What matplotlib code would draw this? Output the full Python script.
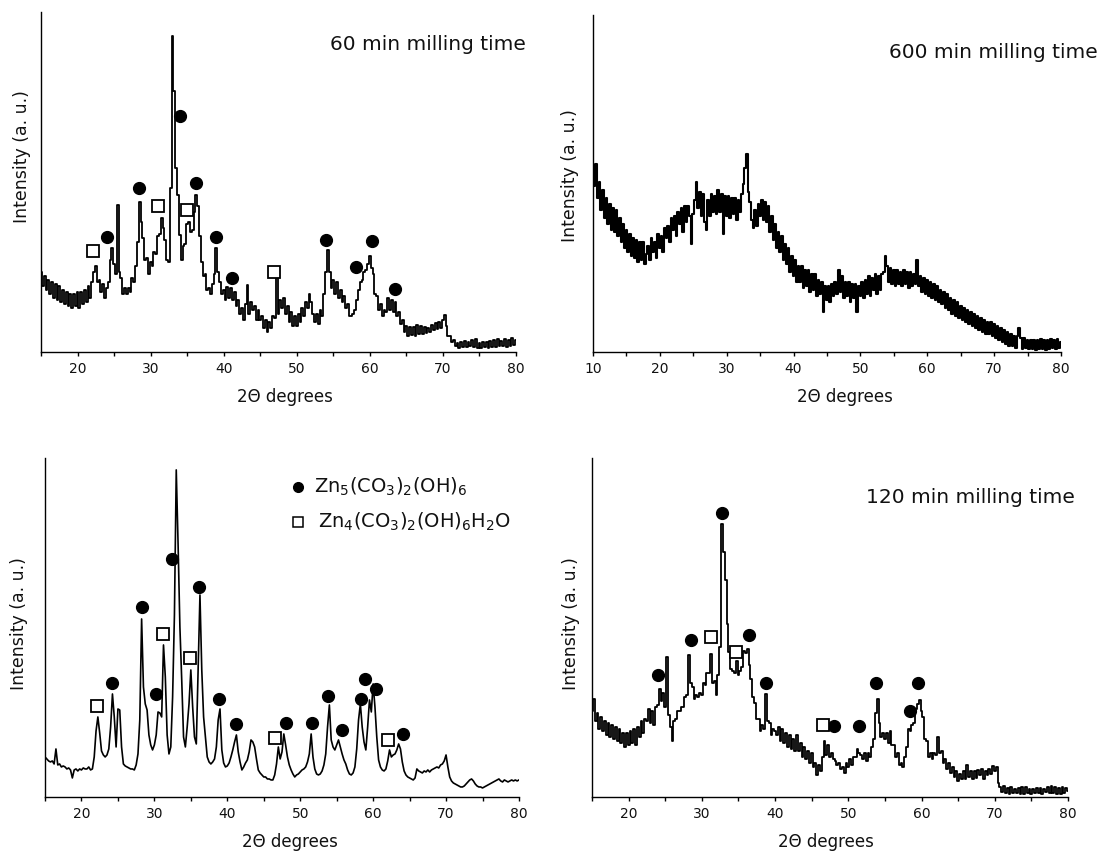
import matplotlib.pyplot as plt
import numpy as np
from matplotlib.ticker import MultipleLocator

plt.rcParams['font.family'] = ['DejaVu Sans']
plt.rcParams['mathtext.default'] = 'regular'

# 2-theta sampling grids, degrees
two_theta_15 = np.arange(15, 80.001, 0.25)
two_theta_10 = np.arange(10, 80.001, 0.25)

# intensity (a. u.), four values per degree
int_60 = [
    80, 66, 76, 62, 72, 58, 70, 54, 68, 52, 66, 50, 62, 48, 60, 46,
    58, 44, 58, 46, 60, 44, 60, 48, 62, 50, 66, 54, 70, 80, 86, 70,
    72, 60, 68, 54, 64, 70, 92, 104, 88, 78, 147, 80, 74, 58, 64, 58,
    64, 60, 74, 70, 86, 110, 150, 130, 114, 92, 94, 78, 90, 86, 100, 98,
    116, 118, 134, 124, 112, 92, 90, 164, 316, 261, 184, 157, 117, 92, 106, 108,
    128, 130, 120, 122, 140, 157, 146, 116, 90, 76, 78, 62, 64, 58, 68, 78,
    104, 80, 70, 58, 62, 52, 65, 54, 64, 52, 60, 46, 52, 38, 44, 32,
    48, 67, 38, 50, 42, 46, 32, 42, 32, 36, 24, 32, 20, 30, 24, 36,
    34, 84, 38, 52, 44, 54, 38, 46, 30, 40, 26, 36, 26, 38, 30, 44,
    36, 50, 44, 58, 50, 38, 30, 38, 28, 42, 36, 58, 80, 102, 80, 64,
    72, 58, 70, 54, 62, 50, 56, 44, 48, 36, 36, 38, 42, 52, 62, 70,
    72, 80, 82, 88, 96, 84, 78, 58, 56, 42, 48, 36, 42, 40, 54, 42,
    52, 40, 50, 36, 40, 28, 32, 20, 26, 16, 25, 17, 25, 16, 27, 18,
    26, 18, 25, 19, 24, 20, 27, 22, 29, 23, 30, 24, 32, 37, 26, 16,
    16, 10, 12, 6, 9, 4, 10, 5, 11, 5, 10, 6, 12, 5, 13, 4,
    9, 4, 10, 5, 10, 4, 11, 5, 12, 5, 13, 6, 11, 6, 13, 5,
    12, 6, 14, 7, 12,
]

int_600 = [
    180, 166, 188, 154, 170, 142, 162, 134, 154, 128, 148, 122, 144, 120, 142, 116,
    134, 110, 128, 104, 122, 100, 118, 96, 114, 94, 112, 90, 110, 92, 110, 88,
    98, 106, 92, 114, 100, 110, 94, 118, 104, 116, 100, 124, 114, 126, 110, 134,
    122, 136, 116, 140, 128, 144, 120, 146, 130, 146, 136, 108, 138, 152, 170, 144,
    160, 136, 158, 130, 122, 152, 136, 158, 140, 156, 138, 162, 140, 158, 118, 156,
    136, 156, 134, 154, 138, 154, 132, 152, 140, 158, 168, 184, 198, 160, 150, 132,
    124, 142, 126, 148, 136, 152, 132, 150, 130, 146, 120, 136, 112, 128, 104, 120,
    100, 116, 92, 108, 88, 104, 80, 96, 76, 92, 70, 86, 70, 86, 64, 82,
    66, 82, 60, 78, 62, 78, 56, 72, 58, 70, 40, 66, 52, 66, 50, 68,
    56, 70, 58, 82, 60, 76, 54, 70, 56, 70, 50, 68, 54, 68, 40, 66,
    56, 70, 54, 72, 58, 76, 56, 74, 62, 78, 58, 76, 62, 78, 80, 96,
    86, 70, 84, 68, 82, 66, 82, 68, 80, 66, 82, 68, 80, 64, 80, 66,
    78, 68, 92, 66, 76, 60, 74, 58, 72, 56, 70, 54, 68, 52, 66, 50,
    62, 48, 60, 44, 58, 42, 54, 38, 52, 36, 50, 34, 46, 32, 44, 30,
    42, 28, 40, 26, 38, 24, 36, 22, 34, 20, 32, 18, 30, 18, 30, 16,
    28, 14, 26, 12, 24, 10, 22, 8, 20, 6, 18, 6, 16, 4, 16, 24,
    14, 3, 14, 4, 12, 3, 12, 3, 12, 2, 12, 3, 13, 3, 12, 2,
    12, 3, 13, 4, 12, 3, 13, 4, 10,
]

int_0 = [
    40, 38, 36, 35, 36, 33, 48, 32, 33, 30, 31, 30, 28, 29, 27, 19,
    27, 28, 26, 28, 27, 29, 28, 28, 30, 27, 28, 40, 66, 80, 64, 46,
    42, 40, 42, 48, 70, 103, 80, 50, 88, 87, 50, 33, 31, 30, 29, 28,
    28, 27, 32, 43, 77, 178, 110, 93, 87, 62, 52, 47, 52, 62, 85, 84,
    80, 152, 120, 62, 43, 50, 100, 182, 327, 253, 170, 117, 60, 50, 70, 93,
    127, 90, 60, 53, 127, 202, 127, 80, 60, 40, 35, 33, 35, 38, 50, 77,
    88, 47, 34, 30, 31, 34, 40, 47, 55, 62, 45, 35, 27, 30, 34, 37,
    45, 57, 55, 50, 38, 27, 24, 22, 20, 20, 18, 18, 17, 17, 22, 33,
    50, 38, 45, 63, 52, 40, 32, 27, 23, 20, 22, 23, 25, 27, 28, 30,
    35, 43, 63, 40, 28, 23, 22, 23, 26, 32, 43, 70, 92, 57, 50, 47,
    52, 57, 50, 43, 37, 33, 27, 23, 22, 24, 30, 48, 77, 93, 70, 55,
    47, 70, 97, 85, 113, 90, 60, 37, 30, 27, 26, 28, 36, 47, 40, 42,
    43, 47, 53, 48, 35, 26, 22, 20, 19, 18, 17, 19, 28, 26, 25, 24,
    26, 25, 27, 25, 27, 28, 29, 30, 29, 32, 33, 36, 42, 30, 20, 16,
    14, 13, 12, 11, 10, 10, 11, 13, 15, 17, 18, 16, 13, 11, 10, 10,
    9, 10, 11, 12, 13, 14, 15, 16, 17, 18, 16, 15, 17, 16, 15, 16,
    17, 16, 17, 16, 17,
]

int_120 = [
    86, 98, 76, 84, 68, 80, 66, 76, 62, 74, 60, 72, 58, 70, 56, 68,
    54, 64, 50, 64, 52, 66, 54, 68, 52, 70, 60, 76, 64, 78, 76, 88,
    74, 86, 72, 90, 92, 108, 96, 104, 90, 140, 82, 70, 56, 76, 78, 86,
    86, 90, 90, 100, 102, 142, 114, 110, 98, 102, 100, 104, 102, 114, 112, 124,
    124, 143, 114, 116, 102, 122, 150, 273, 245, 217, 173, 145, 128, 126, 124, 136,
    122, 126, 130, 146, 144, 148, 132, 118, 100, 94, 78, 78, 66, 72, 68, 103,
    76, 74, 62, 68, 66, 62, 70, 56, 68, 54, 64, 50, 62, 48, 58, 46,
    62, 46, 54, 40, 50, 38, 46, 34, 44, 30, 34, 22, 32, 26, 40, 56,
    42, 52, 40, 44, 38, 36, 32, 34, 28, 30, 24, 34, 30, 38, 32, 40,
    40, 48, 44, 42, 38, 44, 36, 44, 40, 50, 58, 84, 98, 74, 60, 64,
    58, 64, 54, 66, 52, 52, 40, 44, 32, 34, 30, 40, 50, 68, 66, 72,
    74, 88, 93, 97, 86, 80, 58, 56, 40, 44, 38, 44, 42, 60, 44, 46,
    34, 38, 28, 34, 24, 30, 20, 26, 16, 23, 18, 26, 18, 32, 20, 26,
    18, 26, 19, 27, 22, 28, 18, 26, 22, 28, 23, 31, 26, 30, 14, 10,
    5, 11, 4, 9, 3, 10, 4, 8, 4, 9, 3, 10, 3, 10, 4, 8,
    3, 8, 4, 9, 4, 9, 3, 8, 5, 10, 4, 11, 4, 10, 3, 9,
    3, 10, 4, 9, 6,
]

# reflection markers: hydrozincite (circles) and the hydrated phase (squares)
zn5_60_x = [24.05, 28.35, 34.0, 36.2, 38.9, 41.1, 54.05, 58.1, 60.25, 63.4]
zn5_60_y = [115, 164, 236, 169, 115, 74, 112, 85, 111, 63]
zn4_60_x = [22.05, 30.95, 34.95, 46.85]
zn4_60_y = [101, 146, 142, 80]

zn5_0_x = [24.25, 28.3, 30.2, 32.35, 36.15, 38.8, 41.25, 48.05, 51.6, 53.8,
           55.7, 58.3, 58.95, 60.4, 64.1]
zn5_0_y = [114, 190, 103, 238, 210, 98, 73, 74, 74, 101, 67, 98, 118, 108, 63]
zn4_0_x = [22.1, 31.2, 34.95, 46.6, 62.05]
zn4_0_y = [91, 163, 139, 59, 57]

zn5_120_x = [23.95, 28.5, 32.75, 36.5, 38.7, 48.1, 51.4, 53.8, 58.4, 59.45]
zn5_120_y = [122, 157, 284, 162, 114, 71, 71, 114, 86, 114]
zn4_120_x = [31.3, 34.6, 46.6]
zn4_120_y = [160, 145, 72]

TEXT = '#111111'


def style_axes(ax, xmin, ymax):
    ax.set_xlim(xmin, 80)
    ax.set_ylim(0, ymax)
    for side in ('top', 'right'):
        ax.spines[side].set_visible(False)
    for side in ('left', 'bottom'):
        ax.spines[side].set_linewidth(1.0)
    ax.set_yticks([])
    ax.xaxis.set_major_locator(MultipleLocator(10))
    ax.xaxis.set_minor_locator(MultipleLocator(5))
    ax.tick_params(axis='x', which='both', direction='out', length=3,
                   width=1, labelsize=10, pad=4, labelcolor=TEXT)


def axis_labels(ax, xlab_pos, ylab_pos):
    ax.text(xlab_pos[0], xlab_pos[1], '2\u0398 degrees', transform=ax.transAxes,
            ha='center', va='center', fontsize=12, color=TEXT)
    ax.text(ylab_pos[0], ylab_pos[1], 'Intensity (a. u.)', transform=ax.transAxes,
            rotation=90, ha='center', va='center', fontsize=12.5, color=TEXT)


def phase_marks(ax, cx, cy, sx, sy):
    ax.plot(cx, cy, 'o', color='black', ms=8.5, ls='none', clip_on=False)
    ax.plot(sx, sy, 's', mfc='white', mec='black', mew=1.3, ms=8, ls='none',
            clip_on=False)


def trace(ax, x, y, lw=1.3, steps=True):
    ax.plot(x, y, color='black', lw=lw,
            drawstyle='steps-mid' if steps else 'default')


def main():
    fig = plt.figure(figsize=(11.03, 8.51), dpi=100)

    ax_60 = fig.add_axes([0.0372, 0.5864, 0.4306, 0.3995])
    ax_600 = fig.add_axes([0.5376, 0.5864, 0.4243, 0.3960])
    ax_0 = fig.add_axes([0.0408, 0.0635, 0.4297, 0.3984])
    ax_120 = fig.add_axes([0.5367, 0.0635, 0.4316, 0.3984])

    # 60 min
    trace(ax_60, two_theta_15, int_60)
    style_axes(ax_60, 15, 340)
    phase_marks(ax_60, zn5_60_x, zn5_60_y, zn4_60_x, zn4_60_y)
    ax_60.text(1.021, 0.903, '60 min milling time', transform=ax_60.transAxes,
               ha='right', va='center', fontsize=14.5, color=TEXT)
    axis_labels(ax_60, (0.514, -0.132), (-0.040, 0.576))

    # 600 min
    trace(ax_600, two_theta_10, int_600, lw=1.5)
    style_axes(ax_600, 10, 337)
    ax_600.text(1.079, 0.89, '600 min milling time', transform=ax_600.transAxes,
                ha='right', va='center', fontsize=14.5, color=TEXT)
    axis_labels(ax_600, (0.538, -0.133), (-0.050, 0.523))

    # starting material
    trace(ax_0, two_theta_15, int_0, lw=1.2, steps=False)
    style_axes(ax_0, 15, 339)
    phase_marks(ax_0, zn5_0_x, zn5_0_y, zn4_0_x, zn4_0_y)
    axis_labels(ax_0, (0.517, -0.132), (-0.054, 0.51))
    ax_0.plot([0.533], [0.915], 'o', color='black', ms=7, transform=ax_0.transAxes,
              clip_on=False)
    ax_0.plot([0.533], [0.812], 's', mfc='white', mec='black', mew=1.1, ms=6.5,
              transform=ax_0.transAxes, clip_on=False)
    ax_0.text(0.567, 0.915, r'Zn$_5$(CO$_3$)$_2$(OH)$_6$', transform=ax_0.transAxes,
              ha='left', va='center', fontsize=14, color=TEXT)
    ax_0.text(0.575, 0.812, r'Zn$_4$(CO$_3$)$_2$(OH)$_6$H$_2$O', transform=ax_0.transAxes,
              ha='left', va='center', fontsize=14, color=TEXT)

    # 120 min
    trace(ax_120, two_theta_15, int_120)
    style_axes(ax_120, 15, 339)
    phase_marks(ax_120, zn5_120_x, zn5_120_y, zn4_120_x, zn4_120_y)
    ax_120.text(1.015, 0.883, '120 min milling time', transform=ax_120.transAxes,
                ha='right', va='center', fontsize=14.5, color=TEXT)
    axis_labels(ax_120, (0.491, -0.132), (-0.044, 0.512))

    fig.savefig('out.png', dpi=100)


if __name__ == '__main__':
    main()
